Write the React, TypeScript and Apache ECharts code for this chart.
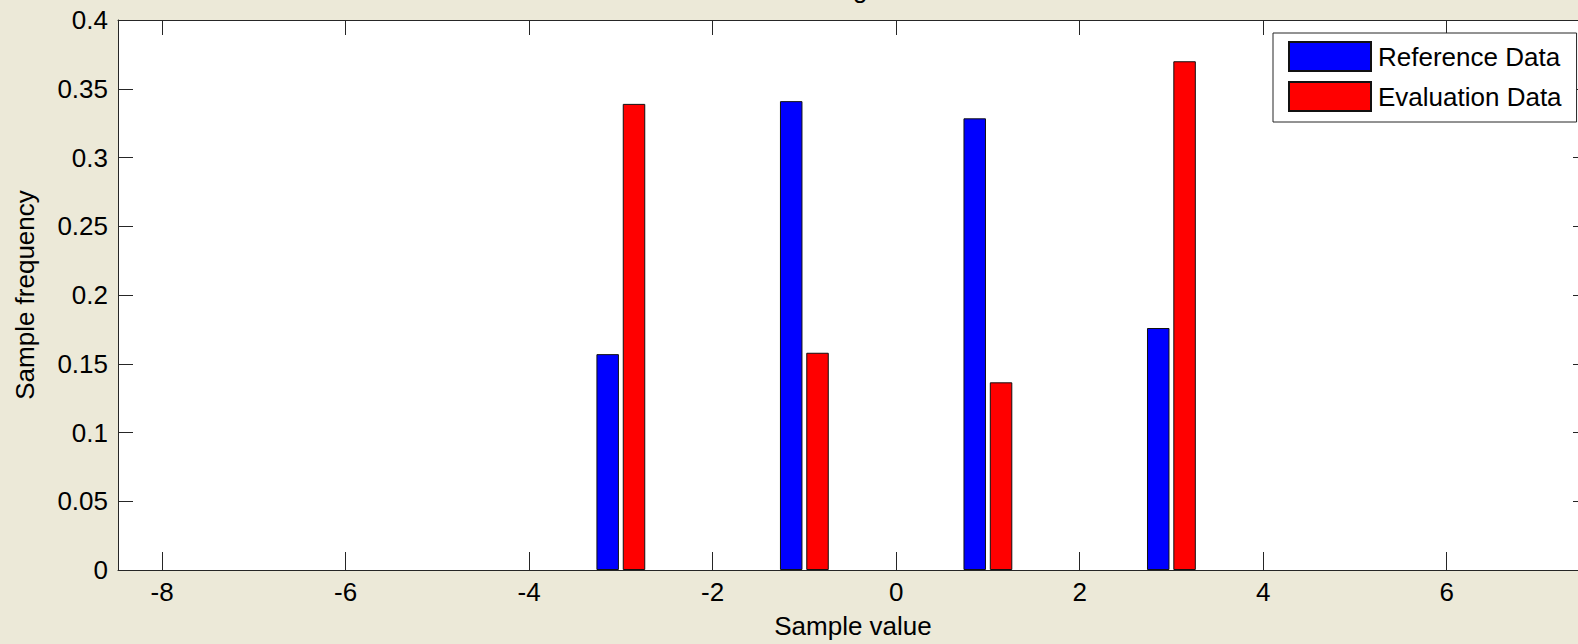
import React, { useEffect, useRef } from "react";
import * as echarts from "echarts";

const binCenters = [-3, -1, 1, 3];
const referenceData = [0.157, 0.341, 0.3285, 0.176];
const evaluationData = [0.339, 0.158, 0.1365, 0.37];
const xTickValues = [-8, -6, -4, -2, 0, 2, 4, 6];
const seriesNames = ["Reference Data", "Evaluation Data"];
const titleText = "Histogram";
const xName = "Sample value";
const yName = "Sample frequency";

const FONT = "'Liberation Sans', Arial, sans-serif";
const LINE = "#262626";

export default function App() {
  const ref = useRef<HTMLDivElement>(null);
  useEffect(() => {
    if (!ref.current) return;
    const chart = echarts.init(ref.current, undefined, { renderer: "svg" });
    const xMin = -8.48;
    const xMax = 7.54;
    const txt = { fontFamily: FONT, fontSize: 26, color: "#000" };
    chart.setOption({
      animation: false,
      backgroundColor: "#ECE9D8",
      textStyle: { fontFamily: FONT },
      grid: { left: 118, top: 20, width: 1470, height: 552, backgroundColor: "#fff", show: true, borderWidth: 0 },
      graphic: [
        {
          type: "text",
          x: 853,
          y: -11,
          style: { text: titleText, fontFamily: FONT, fontSize: 26, fill: "#000", align: "center", verticalAlign: "middle" },
        },
      ],
      legend: {
        data: seriesNames,
        orient: "vertical",
        left: 1273,
        top: 33,
        padding: [8, 15, 10, 15],
        itemWidth: 82,
        itemHeight: 29,
        itemGap: 9,
        icon: "rect",
        backgroundColor: "#fff",
        borderColor: LINE,
        borderWidth: 1,
        borderRadius: 0,
        textStyle: { ...txt, padding: [0, 0, 0, 2] },
      },
      xAxis: [
        {
          type: "value",
          position: "bottom",
          min: xMin,
          max: xMax,
          name: xName,
          nameLocation: "middle",
          nameGap: 43,
          nameTextStyle: txt,
          splitLine: { show: false },
          axisLine: { show: true, onZero: false, lineStyle: { color: LINE, width: 1 } },
          axisTick: { show: true, inside: true, length: 18, customValues: xTickValues, lineStyle: { color: LINE } },
          axisLabel: { ...txt, margin: 9, customValues: xTickValues },
        },
        {
          type: "value",
          position: "top",
          min: xMin,
          max: xMax,
          splitLine: { show: false },
          axisLine: { show: true, onZero: false, lineStyle: { color: LINE, width: 1 } },
          axisTick: { show: true, inside: true, length: 15, customValues: xTickValues, lineStyle: { color: LINE } },
          axisLabel: { show: false },
        },
      ],
      yAxis: [
        {
          type: "value",
          position: "left",
          min: 0,
          max: 0.4,
          interval: 0.05,
          name: yName,
          nameLocation: "middle",
          nameGap: 80,
          nameTextStyle: txt,
          splitLine: { show: false },
          axisLine: { show: true, onZero: false, lineStyle: { color: LINE, width: 1 } },
          axisTick: { show: true, inside: true, length: 15, lineStyle: { color: LINE } },
          axisLabel: { ...txt, margin: 10 },
        },
        {
          type: "value",
          position: "right",
          min: 0,
          max: 0.4,
          interval: 0.05,
          splitLine: { show: false },
          axisLine: { show: true, onZero: false, lineStyle: { color: LINE, width: 1 } },
          axisTick: { show: true, inside: true, length: 15, lineStyle: { color: LINE } },
          axisLabel: { show: false },
        },
      ],
      series: [
        {
          name: seriesNames[0],
          type: "bar",
          xAxisIndex: 0,
          yAxisIndex: 0,
          barWidth: 22.5,
          barGap: "17%",
          itemStyle: { color: "#0000FF", borderColor: "#111", borderWidth: 1 },
          data: binCenters.map((x, i) => [x, referenceData[i]]),
        },
        {
          name: seriesNames[1],
          type: "bar",
          xAxisIndex: 0,
          yAxisIndex: 0,
          barWidth: 22.5,
          barGap: "17%",
          itemStyle: { color: "#FF0000", borderColor: "#111", borderWidth: 1 },
          data: binCenters.map((x, i) => [x, evaluationData[i]]),
        },
      ],
    });
    return () => chart.dispose();
  }, []);
  return (
    <div
      style={{ position: "fixed", left: 0, top: 0, width: 1578, height: 644, overflow: "hidden", background: "#ECE9D8" }}
    >
      <div ref={ref} style={{ width: 1600, height: 644 }} />
    </div>
  );
}
